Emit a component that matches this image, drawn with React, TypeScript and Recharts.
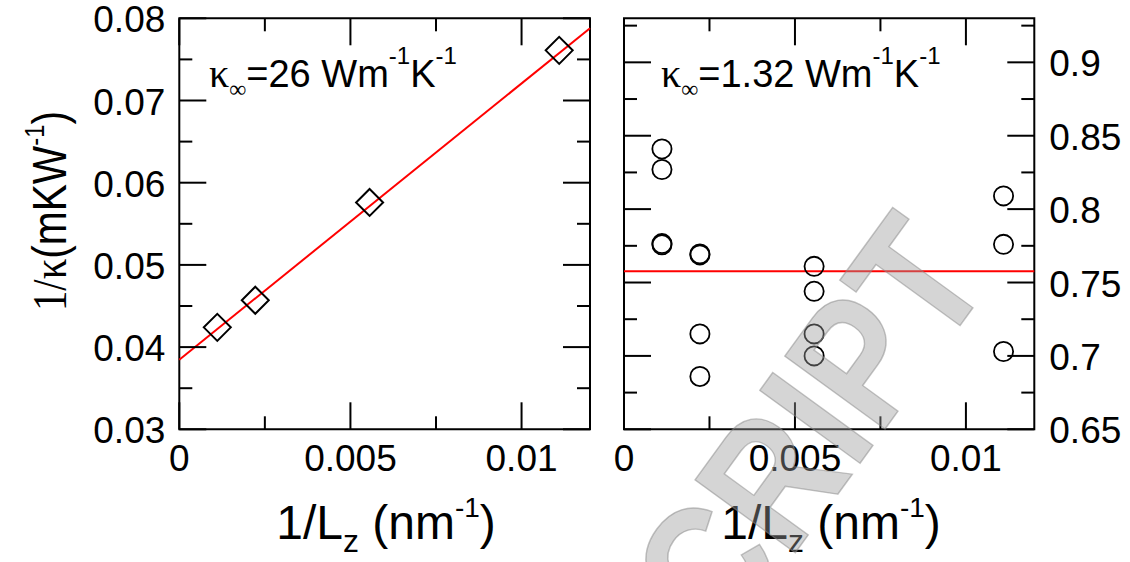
import React from 'react';
import { ScatterChart, Scatter, XAxis, YAxis, ReferenceLine, ReferenceArea } from 'recharts';

// ---------- data ----------
const LZ_INV = [0.00111, 0.00222, 0.00556, 0.0111];
const LEFT_INV_KAPPA = [0.0424, 0.0457, 0.0576, 0.0761];
const LEFT_FIT_X = [0, 0.012];
const LEFT_FIT_Y = [0.03846, 0.0788];

const RIGHT_X = [
  0.00111, 0.00111, 0.00111, 0.00111,
  0.00222, 0.00222, 0.00222, 0.00222,
  0.00556, 0.00556, 0.00556, 0.00556,
  0.0111, 0.0111, 0.0111,
];
const RIGHT_INV_KAPPA = [
  0.841, 0.827, 0.7765, 0.7757,
  0.7695, 0.7688, 0.715, 0.686,
  0.761, 0.744, 0.715, 0.700,
  0.809, 0.776, 0.703,
];
const RIGHT_FIT_Y = 0.7576;

const X_DOMAIN = [0, 0.012];
const X_MAJOR = [0, 0.005, 0.01];
const X_LABELS = ['0', '0.005', '0.01'];
const X_MINOR = [0.0025, 0.0075];

const LEFT_Y_DOMAIN = [0.03, 0.08];
const LEFT_Y_MAJOR = [0.03, 0.04, 0.05, 0.06, 0.07, 0.08];
const LEFT_Y_LABELS = ['0.03', '0.04', '0.05', '0.06', '0.07', '0.08'];
const LEFT_Y_MINOR = [0.035, 0.045, 0.055, 0.065, 0.075];

const RIGHT_Y_DOMAIN = [0.65, 0.93];
const RIGHT_Y_MAJOR = [0.65, 0.7, 0.75, 0.8, 0.85, 0.9];
const RIGHT_Y_LABELS = ['0.65', '0.7', '0.75', '0.8', '0.85', '0.9'];
const RIGHT_Y_MINOR = [0.675, 0.725, 0.775, 0.825, 0.875, 0.925];

// ---------- style / layout ----------
const SANS = '"Liberation Sans", Arial, Helvetica, sans-serif';
const SERIF = '"Liberation Serif", "Times New Roman", serif';
const TICK_FONT = 37;
const MAJOR_LEN = 27;
const MINOR_LEN = 13;
const H = 562;
const AXIS_SIZE = 30;

const PLOT_A = { left: 179.3, right: 590, top: 18.3, bottom: 429.3 };
const PLOT_B = { left: 24, right: 434.3, top: 18.3, bottom: 429.3 };
const WIDTH_A = 600;
const WIDTH_B = 530;

const leftData = LZ_INV.map((x, i) => ({ x, y: LEFT_INV_KAPPA[i] }));
const rightData = RIGHT_X.map((x, i) => ({ x, y: RIGHT_INV_KAPPA[i] }));

const sorted = (a: number[], b: number[]) => [...a, ...b].sort((p, q) => p - q);

const near = (list: number[], v: number) => list.findIndex((m) => Math.abs(m - v) < 1e-9);

function makeXTick(plot: any, majors: number[], labels: string[]) {
  return (props: any) => {
    const { x, payload } = props;
    const idx = near(majors, payload.value);
    const len = idx >= 0 ? MAJOR_LEN : MINOR_LEN;
    return (
      <g>
        <line x1={x} x2={x} y1={plot.bottom} y2={plot.bottom - len} stroke="#000" strokeWidth={2} />
        <line x1={x} x2={x} y1={plot.top} y2={plot.top + len} stroke="#000" strokeWidth={2} />
        {idx >= 0 && (
          <text x={x} y={plot.bottom + 42} textAnchor="middle" fontSize={TICK_FONT} fontFamily={SANS} fill="#000">
            {labels[idx]}
          </text>
        )}
      </g>
    );
  };
}

function makeYTick(plot: any, majors: number[], labels: string[], side: 'left' | 'right') {
  return (props: any) => {
    const { y, payload } = props;
    const idx = near(majors, payload.value);
    const len = idx >= 0 ? MAJOR_LEN : MINOR_LEN;
    return (
      <g>
        <line x1={plot.left} x2={plot.left + len} y1={y} y2={y} stroke="#000" strokeWidth={2} />
        <line x1={plot.right} x2={plot.right - len} y1={y} y2={y} stroke="#000" strokeWidth={2} />
        {idx >= 0 && (
          <text
            x={side === 'left' ? plot.left - 14 : plot.right + 15}
            y={y + 14}
            textAnchor={side === 'left' ? 'end' : 'start'}
            fontSize={TICK_FONT}
            fontFamily={SANS}
            fill="#000"
          >
            {labels[idx]}
          </text>
        )}
      </g>
    );
  };
}

const Diamond = (props: any) => {
  const { cx, cy } = props;
  const r = 13.5;
  return (
    <path
      d={`M${cx},${cy - r}L${cx + r},${cy}L${cx},${cy + r}L${cx - r},${cy}Z`}
      fill="none"
      stroke="#000"
      strokeWidth={2}
    />
  );
};

const Ring = (props: any) => {
  const { cx, cy } = props;
  return <circle cx={cx} cy={cy} r={9.6} fill="none" stroke="#000" strokeWidth={1.8} />;
};

const XTitle = ({ cx }: { cx: number }) => (
  <text x={cx} y={539} textAnchor="middle" fontSize={48} fontFamily={SANS} fill="#000">
    1/L
    <tspan fontSize={32} dy={13}>z</tspan>
    <tspan fontSize={48} dy={-13}> (nm</tspan>
    <tspan fontSize={28} dy={-22}>-1</tspan>
    <tspan fontSize={48} dy={22}>)</tspan>
  </text>
);

const Kappa = ({ x, value }: { x: number; value: string }) => (
  <text x={x} y={87} fontSize={38} fontFamily={SANS} fill="#000">
    <tspan fontFamily={SERIF} fontSize={40}>κ</tspan>
    <tspan fontSize={24} dy={10} fontFamily={SERIF}>∞</tspan>
    <tspan fontSize={38} dy={-10}>{`=${value} Wm`}</tspan>
    <tspan fontSize={24} dy={-23}>-1</tspan>
    <tspan fontSize={38} dy={23}>K</tspan>
    <tspan fontSize={24} dy={-23}>-1</tspan>
  </text>
);

export default function App() {
  const xTicks = sorted(X_MAJOR, X_MINOR);
  return (
    <div style={{ position: 'absolute', left: 0, top: 0, width: 1130, height: H, background: '#fff', overflow: 'hidden' }}>
      <div style={{ position: 'absolute', left: 0, top: 0 }}>
        <ScatterChart
          width={WIDTH_A}
          height={H}
          margin={{
            top: PLOT_A.top,
            left: PLOT_A.left - AXIS_SIZE,
            right: WIDTH_A - PLOT_A.right,
            bottom: H - PLOT_A.bottom - AXIS_SIZE,
          }}
        >
          <XAxis
            type="number"
            dataKey="x"
            domain={X_DOMAIN}
            allowDataOverflow
            ticks={xTicks}
            interval={0}
            height={AXIS_SIZE}
            tickLine={false}
            axisLine={false}
            tick={makeXTick(PLOT_A, X_MAJOR, X_LABELS)}
          />
          <YAxis
            type="number"
            dataKey="y"
            domain={LEFT_Y_DOMAIN}
            allowDataOverflow
            ticks={sorted(LEFT_Y_MAJOR, LEFT_Y_MINOR)}
            interval={0}
            width={AXIS_SIZE}
            tickLine={false}
            axisLine={false}
            tick={makeYTick(PLOT_A, LEFT_Y_MAJOR, LEFT_Y_LABELS, 'left')}
          />
          <ReferenceArea
            x1={X_DOMAIN[0]}
            x2={X_DOMAIN[1]}
            y1={LEFT_Y_DOMAIN[0]}
            y2={LEFT_Y_DOMAIN[1]}
            fill="none"
            fillOpacity={0}
            stroke="#000"
            strokeWidth={2}
            ifOverflow="visible"
          />
          <ReferenceLine
            segment={[
              { x: LEFT_FIT_X[0], y: LEFT_FIT_Y[0] },
              { x: LEFT_FIT_X[1], y: LEFT_FIT_Y[1] },
            ]}
            stroke="#ff0000"
            strokeWidth={2}
            ifOverflow="visible"
          />
          <Scatter data={leftData} shape={Diamond} isAnimationActive={false} />
        </ScatterChart>
      </div>
      <div style={{ position: 'absolute', left: WIDTH_A, top: 0 }}>
        <ScatterChart
          width={WIDTH_B}
          height={H}
          margin={{
            top: PLOT_B.top,
            left: PLOT_B.left,
            right: WIDTH_B - PLOT_B.right - AXIS_SIZE,
            bottom: H - PLOT_B.bottom - AXIS_SIZE,
          }}
        >
          <XAxis
            type="number"
            dataKey="x"
            domain={X_DOMAIN}
            allowDataOverflow
            ticks={xTicks}
            interval={0}
            height={AXIS_SIZE}
            tickLine={false}
            axisLine={false}
            tick={makeXTick(PLOT_B, X_MAJOR, X_LABELS)}
          />
          <YAxis
            type="number"
            dataKey="y"
            orientation="right"
            domain={RIGHT_Y_DOMAIN}
            allowDataOverflow
            ticks={sorted(RIGHT_Y_MAJOR, RIGHT_Y_MINOR)}
            interval={0}
            width={AXIS_SIZE}
            tickLine={false}
            axisLine={false}
            tick={makeYTick(PLOT_B, RIGHT_Y_MAJOR, RIGHT_Y_LABELS, 'right')}
          />
          <ReferenceArea
            x1={X_DOMAIN[0]}
            x2={X_DOMAIN[1]}
            y1={RIGHT_Y_DOMAIN[0]}
            y2={RIGHT_Y_DOMAIN[1]}
            fill="none"
            fillOpacity={0}
            stroke="#000"
            strokeWidth={2}
            ifOverflow="visible"
          />
          <ReferenceLine y={RIGHT_FIT_Y} stroke="#ff0000" strokeWidth={2} />
          <Scatter data={rightData} shape={Ring} isAnimationActive={false} />
        </ScatterChart>
      </div>
      <svg
        width={1130}
        height={H}
        style={{ position: 'absolute', left: 0, top: 0, pointerEvents: 'none' }}
      >
        <text
          transform="translate(66,211) rotate(-90)"
          textAnchor="middle"
          fontSize={48}
          fontFamily={SANS}
          fill="#000"
          textLength={200}
          lengthAdjust="spacingAndGlyphs"
        >
          <tspan fontFamily={SERIF}>1/κ</tspan>
          <tspan>(mKW</tspan>
          <tspan fontSize={28} dy={-22}>-1</tspan>
          <tspan fontSize={48} dy={22}>)</tspan>
        </text>
        <XTitle cx={386} />
        <XTitle cx={831} />
        <Kappa x={209} value="26" />
        <Kappa x={661} value="1.32" />
        <text
          transform="translate(994,279) rotate(-54) scale(0.85,1)"
          textAnchor="end"
          fontSize={180}
          fontWeight="bold"
          fontFamily={SANS}
          fill="#9a9a9a"
          fillOpacity={0.42}
          stroke="#8a8a8a"
          strokeOpacity={0.5}
          strokeWidth={1.5}
        >
          ACCEPTED MANUSCRIPT
        </text>
      </svg>
    </div>
  );
}
